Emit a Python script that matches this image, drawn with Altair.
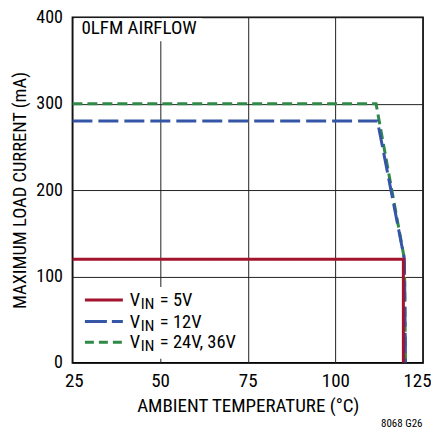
import altair as alt
import pandas as pd

# ---- data ----
series_names = ["5V", "12V", "24V, 36V"]
temp_5v = [25, 119.4, 119.4]
cur_5v = [120, 120, 0]
temp_12v = [25, 112.0, 119.7, 120.0]
cur_12v = [280, 280, 120, 0]
temp_24v = [25, 111.6, 119.7, 120.0]
cur_24v = [300, 300, 120, 0]
x_ticks = [25, 50, 75, 100, 125]
y_ticks = [0, 100, 200, 300, 400]
legend_values = ["= 5V", "= 12V", "= 24V, 36V"]

FONT = "Liberation Sans Narrow, Roboto Condensed, DejaVu Sans Condensed, Arial Narrow, sans-serif"
RED, BLUE, GREEN = "#a3132e", "#3556a6", "#2f8a47"

rows = []
for name, xs, ys in [("24V, 36V", temp_24v, cur_24v), ("12V", temp_12v, cur_12v), ("5V", temp_5v, cur_5v)]:
    for i, (t, c) in enumerate(zip(xs, ys)):
        rows.append({"series": name, "temp": t, "current": c, "ord": i})
df = pd.DataFrame(rows)

W, H = 351, 346

xscale = alt.Scale(domain=[25, 125], nice=False, zero=False)
yscale = alt.Scale(domain=[0, 400], nice=False)

def line_for(name, color, dash):
    return alt.Chart(df[df.series == name]).mark_line(
        color=color, strokeWidth=3, strokeDash=dash, strokeCap="butt", clip=True
    ).encode(
        x=alt.X("temp:Q", scale=xscale,
                axis=alt.Axis(values=x_ticks, title="AMBIENT TEMPERATURE (°C)", grid=True,
                              ticks=False, domain=False, labelPadding=9, titlePadding=6,
                              labelFlush=True, labelFlushOffset=8,
                              labelFontSize=19, titleFontSize=19)),
        y=alt.Y("current:Q", scale=yscale,
                axis=alt.Axis(values=y_ticks, title="MAXIMUM LOAD CURRENT (mA)", grid=True,
                              ticks=False, domain=False, labelPadding=10, titlePadding=6,
                              labelFlush=False, labelFontSize=18, titleFontSize=18.5)),
        order="ord:Q",
    )

one = pd.DataFrame({"k": [0]})

def box(x1, x2, y1, y2):
    return alt.Chart(one).mark_rect(color="white").encode(
        x=alt.value(x1), x2=alt.value(x2), y=alt.value(y1), y2=alt.value(y2))

def txt(s, x, y, size, align="left", baseline="middle"):
    return alt.Chart(one).mark_text(text=s, font=FONT, fontSize=size, align=align,
                                    baseline=baseline, color="black").encode(
        x=alt.value(x), y=alt.value(y))

def legline(y, color, dash):
    m = alt.Chart(one).mark_rule(color=color, strokeWidth=3, strokeCap="butt",
                                 **({"strokeDash": dash} if dash else {}))
    return m.encode(x=alt.value(12.5), x2=alt.value(50.5), y=alt.value(y))

layers = [
    line_for("24V, 36V", GREEN, [10, 5]),
    line_for("12V", BLUE, [20, 6]),
    line_for("5V", RED, [1, 0]),
    box(2, 130, 1, 24),
    txt("0LFM AIRFLOW", 9, 11, 19),
    box(4, 172, 270, 342),
]
leg_rows = [283, 304.7, 325.3]
leg_styles = [(RED, None), (BLUE, [22, 5]), (GREEN, [9, 5])]
for ly, (c, d), val in zip(leg_rows, leg_styles, legend_values):
    layers.append(legline(ly, c, d))
    layers.append(txt("V", 57.5, ly, 18.5))
    layers.append(txt("IN", 68.5, ly + 4, 15.5))
    layers.append(txt(val, 87.5, ly, 18.5))

layers.append(txt("8068 G26", 350.5, 407, 11, align="right"))

chart = alt.layer(*layers).properties(
    width=W, height=H,
    autosize=alt.AutoSizeParams(type="none"),
    padding={"left": 64.5, "top": 9, "right": 8, "bottom": 68},
).configure_view(
    stroke="black", strokeWidth=1.6
).configure_axis(
    gridColor="#222222", gridWidth=1, gridOpacity=1,
    labelFont=FONT, titleFont=FONT, labelColor="black", titleColor="black",
    titleFontWeight="normal"
)

chart.save("out.html", embed_options={"renderer": "svg", "actions": False})
